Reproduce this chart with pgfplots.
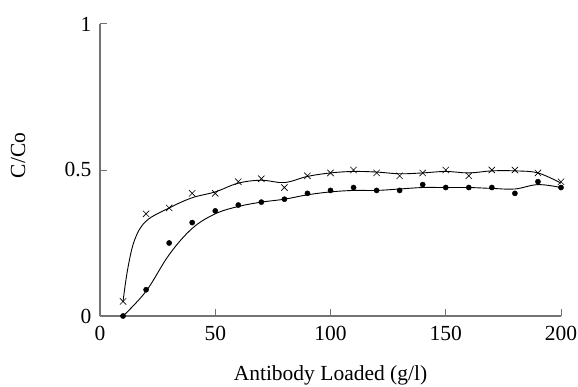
\documentclass[border=0pt]{standalone}
\usepackage{fontspec}
\setmainfont{Liberation Serif}
\usepackage{pgfplots}
\pgfplotsset{compat=1.18}
\begin{document}
\begin{tikzpicture}[x=1pt,y=1pt]
\begin{axis}[
  at={(0,0)}, anchor=origin,
  scale only axis, width=461pt, height=292pt,
  xmin=0, xmax=200, ymin=0, ymax=1,
  axis x line*=bottom, axis y line*=left,
  axis line style={draw=black!55, line width=1.3pt, -},
  xtick={0,50,100,150,200}, ytick={0,0.5,1},
  yticklabels={0,0.5,1},
  tick style={draw=black!55, line width=1pt},
  major tick length=7pt,
  tick align=inside,
  xtick pos=bottom, ytick pos=left,
  /pgf/number format/assume math mode=true,
  ticklabel style={font=\fontsize{21.5}{24}\selectfont},
  xticklabel style={yshift=-7pt},
  yticklabel style={xshift=-5pt},
  clip=false,
  xlabel={Antibody Loaded (g/l)},
  ylabel={C/Co},
  label style={font=\fontsize{21.5}{24}\selectfont},
  xlabel style={at={(axis description cs:0.5,0)}, anchor=center, yshift=-59pt},
  ylabel style={at={([xshift=-82pt]axis description cs:0,0.55)}, anchor=center},
]
% fitted curves
\addplot[black, line width=0.9pt, smooth, tension=0.6] coordinates {
 (10,0.05) (12,0.16) (15,0.26) (20,0.325) (30,0.37) (40,0.405) (50,0.425) (60,0.455) (70,0.465) (80,0.457) (90,0.478) (100,0.49) (110,0.495) (120,0.493) (130,0.487) (140,0.49) (150,0.495) (160,0.49) (170,0.497) (180,0.497) (190,0.49) (200,0.455)};
\addplot[black, line width=0.9pt, smooth, tension=0.6] coordinates {
 (10,0.0) (20,0.085) (30,0.21) (40,0.3) (50,0.35) (60,0.375) (70,0.39) (80,0.40) (90,0.415) (100,0.425) (110,0.43) (120,0.43) (130,0.435) (140,0.44) (150,0.44) (160,0.44) (170,0.437) (180,0.435) (190,0.45) (200,0.44)};
% data points
\addplot[only marks, mark=x, mark size=4.5pt, mark options={black, line width=0.6pt}] coordinates {
 (10,0.05) (20,0.35) (30,0.37) (40,0.42) (50,0.42) (60,0.46) (70,0.47) (80,0.44) (90,0.48) (100,0.49) (110,0.50) (120,0.49) (130,0.48) (140,0.49) (150,0.50) (160,0.48) (170,0.50) (180,0.50) (190,0.49) (200,0.46)};
\addplot[only marks, mark=*, mark size=2.6pt, mark options={black}] coordinates {
 (10,0.0) (20,0.09) (30,0.25) (40,0.32) (50,0.36) (60,0.38) (70,0.39) (80,0.40) (90,0.42) (100,0.43) (110,0.44) (120,0.43) (130,0.43) (140,0.45) (150,0.44) (160,0.44) (170,0.44) (180,0.42) (190,0.46) (200,0.44)};
\end{axis}
\pgfresetboundingbox
\path (-100pt,-70pt) rectangle (478pt,316pt);
\end{tikzpicture}
\end{document}
